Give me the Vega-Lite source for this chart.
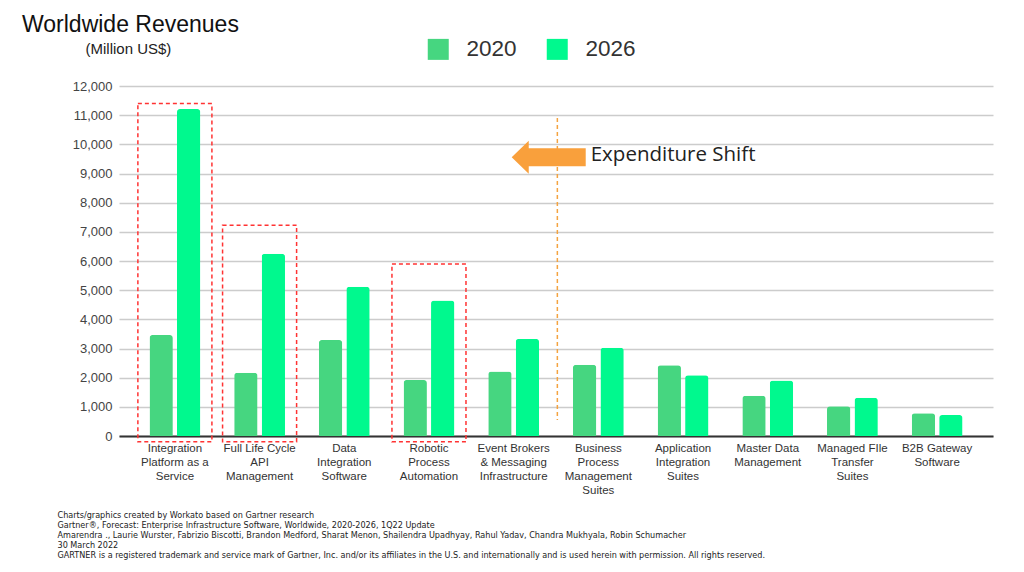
{
  "$schema": "https://vega.github.io/schema/vega-lite/v6.json",
  "width": 874,
  "height": 350,
  "autosize": {"type": "none"},
  "padding": {"left": 119, "top": 86, "right": 31, "bottom": 136},
  "background": "white",
  "title": {
    "text": "Worldwide Revenues",
    "anchor": "start",
    "frame": "group",
    "dx": -97,
    "dy": 3,
    "offset": 4,
    "font": "Liberation Sans",
    "fontSize": 23,
    "fontWeight": "normal",
    "color": "#111111"
  },
  "config": {
    "view": {"stroke": null},
    "axis": {"labelFont": "Liberation Sans", "titleFont": "Liberation Sans"},
    "axisY": {
      "title": "(Million US$)",
      "titleAngle": 0,
      "titleAlign": "left",
      "titleBaseline": "middle",
      "titleX": -34,
      "titleY": -38,
      "titleFontSize": 15,
      "titleFontWeight": "normal",
      "titleColor": "#222222",
      "labelFontSize": 13,
      "labelColor": "#444444",
      "labelPadding": 7,
      "ticks": false,
      "domain": false,
      "gridColor": "#cccccc",
      "gridWidth": 1.5
    }
  },
  "datasets": {
    "revenue": [
      {"category": "Integration Platform as a Service", "year": "2020", "revenue": 3460},
      {"category": "Integration Platform as a Service", "year": "2026", "revenue": 11210},
      {"category": "Full Life Cycle API Management", "year": "2020", "revenue": 2170},
      {"category": "Full Life Cycle API Management", "year": "2026", "revenue": 6250},
      {"category": "Data Integration Software", "year": "2020", "revenue": 3290},
      {"category": "Data Integration Software", "year": "2026", "revenue": 5120},
      {"category": "Robotic Process Automation", "year": "2020", "revenue": 1920},
      {"category": "Robotic Process Automation", "year": "2026", "revenue": 4650},
      {"category": "Event Brokers & Messaging Infrastructure", "year": "2020", "revenue": 2210},
      {"category": "Event Brokers & Messaging Infrastructure", "year": "2026", "revenue": 3330},
      {"category": "Business Process Management Suites", "year": "2020", "revenue": 2440},
      {"category": "Business Process Management Suites", "year": "2026", "revenue": 3030},
      {"category": "Application Integration Suites", "year": "2020", "revenue": 2430},
      {"category": "Application Integration Suites", "year": "2026", "revenue": 2080},
      {"category": "Master Data Management", "year": "2020", "revenue": 1380},
      {"category": "Master Data Management", "year": "2026", "revenue": 1900},
      {"category": "Managed FIle Transfer Suites", "year": "2020", "revenue": 1020},
      {"category": "Managed FIle Transfer Suites", "year": "2026", "revenue": 1310},
      {"category": "B2B Gateway Software", "year": "2020", "revenue": 780},
      {"category": "B2B Gateway Software", "year": "2026", "revenue": 720}
    ],
    "highlights": [
      {"category": "Integration Platform as a Service", "top": 11400, "bottom": -200},
      {"category": "Full Life Cycle API Management", "top": 7230, "bottom": -200},
      {"category": "Robotic Process Automation", "top": 5900, "bottom": -200}
    ],
    "shift": [
      {"category": "Event Brokers & Messaging Infrastructure", "label": "Expenditure Shift", "from": 10900, "to": 550, "arrowY": 9560, "textY": 9650}
    ]
  },
  "layer": [
    {
      "data": {"name": "revenue"},
      "mark": {"type": "bar", "cornerRadiusEnd": 3},
      "encoding": {
        "x": {
          "field": "category",
          "type": "nominal",
          "sort": null,
          "scale": {"paddingInner": 0.4, "paddingOuter": 0.36},
          "axis": {
            "title": [
              "Charts/graphics created by Workato based on Gartner research",
              "Gartner®, Forecast: Enterprise Infrastructure Software, Worldwide, 2020-2026, 1Q22 Update",
              "Amarendra ., Laurie Wurster, Fabrizio Biscotti, Brandon Medford, Sharat Menon, Shailendra Upadhyay, Rahul Yadav, Chandra Mukhyala, Robin Schumacher",
              "30 March 2022",
              "GARTNER is a registered trademark and service mark of Gartner, Inc. and/or its affiliates in the U.S. and internationally and is used herein with permission. All rights reserved."
            ],
            "titleFont": "DejaVu Sans",
            "titleFontSize": 8.1,
            "titleFontWeight": "normal",
            "titleColor": "#222222",
            "titleAnchor": "start",
            "titleAlign": "left",
            "titleBaseline": "top",
            "titleX": -62,
            "titleY": 75,
            "titleLineHeight": 10,
            "labelAngle": 0,
            "labelFontSize": 11.5,
            "labelColor": "#333333",
            "labelLineHeight": 14,
            "labelPadding": 6,
            "labelBaseline": "top",
            "labelExpr": "({'Integration Platform as a Service': ['Integration','Platform as a','Service'], 'Full Life Cycle API Management': ['Full Life Cycle','API','Management'], 'Data Integration Software': ['Data','Integration','Software'], 'Robotic Process Automation': ['Robotic','Process','Automation'], 'Event Brokers & Messaging Infrastructure': ['Event Brokers','& Messaging','Infrastructure'], 'Business Process Management Suites': ['Business','Process','Management','Suites'], 'Application Integration Suites': ['Application','Integration','Suites'], 'Master Data Management': ['Master Data','Management'], 'Managed FIle Transfer Suites': ['Managed FIle','Transfer','Suites'], 'B2B Gateway Software': ['B2B Gateway','Software']})[datum.value]",
            "ticks": false,
            "domainColor": "#333333",
            "domainWidth": 2
          }
        },
        "xOffset": {
          "field": "year",
          "type": "nominal",
          "scale": {"paddingInner": 0.15, "paddingOuter": 0}
        },
        "y": {
          "field": "revenue",
          "type": "quantitative",
          "scale": {"domain": [0, 12000], "nice": false},
          "axis": {
            "title": "(Million US$)",
            "values": [0, 1000, 2000, 3000, 4000, 5000, 6000, 7000, 8000, 9000, 10000, 11000, 12000],
            "format": ",d"
          }
        },
        "color": {
          "field": "year",
          "type": "nominal",
          "scale": {"domain": ["2020", "2026"], "range": ["#46d680", "#00f98e"]},
          "legend": {
            "title": null,
            "orient": "none",
            "direction": "horizontal",
            "legendX": 308,
            "legendY": -48,
            "symbolType": "square",
            "symbolSize": 441,
            "symbolStrokeWidth": 0,
            "symbolOpacity": 1,
            "labelFont": "Liberation Sans",
            "labelFontSize": 22.5,
            "labelColor": "#333333",
            "labelOffset": 17,
            "columnPadding": 29
          }
        }
      }
    },
    {
      "data": {"name": "highlights"},
      "mark": {"type": "bar", "width": {"band": 1.457}, "fill": "transparent", "stroke": "#ff3333", "strokeWidth": 1.5, "strokeDash": [4, 3]},
      "encoding": {
        "x": {"field": "category", "type": "nominal", "sort": null},
        "y": {"field": "top", "type": "quantitative", "axis": {"title": "(Million US$)", "values": [0, 1000, 2000, 3000, 4000, 5000, 6000, 7000, 8000, 9000, 10000, 11000, 12000], "format": ",d"}},
        "y2": {"field": "bottom"}
      }
    },
    {
      "data": {"name": "shift"},
      "mark": {"type": "rule", "color": "#f4a340", "strokeWidth": 1.5, "strokeDash": [4, 3]},
      "encoding": {
        "x": {"field": "category", "type": "nominal", "sort": null, "bandPosition": 1.36},
        "y": {"field": "from", "type": "quantitative", "axis": {"title": "(Million US$)", "values": [0, 1000, 2000, 3000, 4000, 5000, 6000, 7000, 8000, 9000, 10000, 11000, 12000], "format": ",d"}},
        "y2": {"field": "to"}
      }
    },
    {
      "data": {"name": "shift"},
      "mark": {"type": "point", "filled": true, "opacity": 1, "color": "#f9a03c", "size": 5476, "strokeWidth": 0,
        "shape": "M -1 0 L -0.54 -0.446 L -0.54 -0.243 L 1 -0.243 L 1 0.243 L -0.54 0.243 L -0.54 0.446 Z"},
      "encoding": {
        "x": {"field": "category", "type": "nominal", "sort": null, "bandPosition": 1.19},
        "y": {"field": "arrowY", "type": "quantitative", "axis": {"title": "(Million US$)", "values": [0, 1000, 2000, 3000, 4000, 5000, 6000, 7000, 8000, 9000, 10000, 11000, 12000], "format": ",d"}}
      }
    },
    {
      "data": {"name": "shift"},
      "mark": {"type": "text", "align": "left", "baseline": "middle", "font": "Open Sans", "fontSize": 20.5, "color": "#222222", "dx": 42},
      "encoding": {
        "x": {"field": "category", "type": "nominal", "sort": null, "bandPosition": 1.19},
        "y": {"field": "textY", "type": "quantitative", "axis": {"title": "(Million US$)", "values": [0, 1000, 2000, 3000, 4000, 5000, 6000, 7000, 8000, 9000, 10000, 11000, 12000], "format": ",d"}},
        "text": {"field": "label"}
      }
    }
  ]
}
